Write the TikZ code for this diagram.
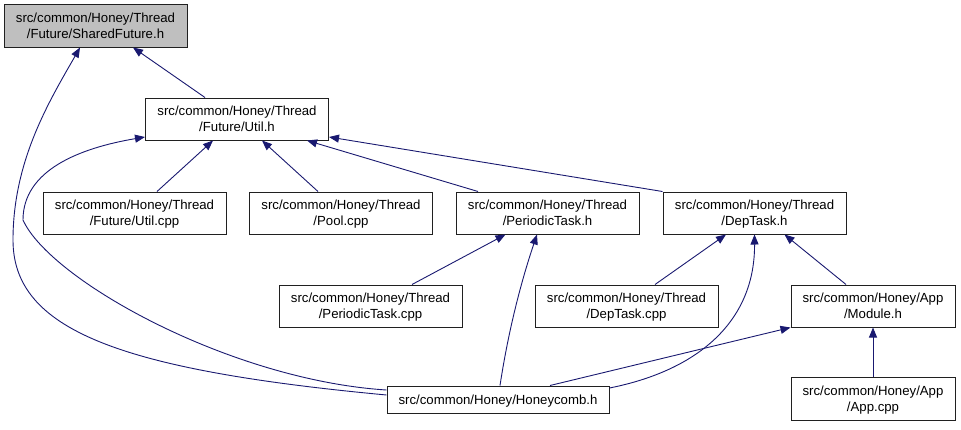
\documentclass[tikz,border=0pt]{standalone}
\usepackage{fontspec}
\setmainfont{Liberation Sans}
\usetikzlibrary{arrows.meta}
\definecolor{edgeblue}{HTML}{191970}
\definecolor{boxgray}{HTML}{BFBFBF}
\definecolor{boxline}{HTML}{202020}
\begin{document}
\begin{tikzpicture}[x=1pt,y=-1pt,
  file/.style={draw=boxline,line width=1pt,fill=white,inner sep=0pt,align=center,text depth=0pt,
    minimum width=183pt,minimum height=42pt,font=\fontsize{13.2}{15.8}\selectfont},
  dep/.style={draw=edgeblue,line width=0.9pt,{Triangle[length=10pt,width=8pt]}-},
]
\useasboundingbox (0,0) rectangle (961,429);
\node[file,fill=boxgray,minimum height=43pt] (sf) at (95.5,25.5) {src/common/Honey/Thread\\/Future/SharedFuture.h};
\node[file] (utilh) at (237,119) {src/common/Honey/Thread\\/Future/Util.h};
\node[file] (utilcpp) at (134.5,213) {src/common/Honey/Thread\\/Future/Util.cpp};
\node[file] (pool) at (341,213) {src/common/Honey/Thread\\/Pool.cpp};
\node[file] (pth) at (547.5,213) {src/common/Honey/Thread\\/PeriodicTask.h};
\node[file] (dth) at (754.5,213) {src/common/Honey/Thread\\/DepTask.h};
\node[file] (ptcpp) at (370.5,306) {src/common/Honey/Thread\\/PeriodicTask.cpp};
\node[file] (dtcpp) at (626.5,306) {src/common/Honey/Thread\\/DepTask.cpp};
\node[file,minimum width=164pt] (mod) at (873,306) {src/common/Honey/App\\/Module.h};
\node[file,minimum width=222pt,minimum height=27pt] (hc) at (498,399.5) {src/common/Honey/Honeycomb.h};
\node[file,minimum width=164pt,minimum height=43pt] (app) at (873,399) {src/common/Honey/App\\/App.cpp};

\draw[dep] ([xshift=37.5pt]sf.south) -- ([xshift=-32pt]utilh.north);
\draw[dep] ([xshift=-15.5pt]sf.south) .. controls (50,100) and (13,160) .. (13,240)
   .. controls (13,330) and (120,370) .. ([yshift=4.5pt]hc.west);
\draw[dep] ([xshift=-24pt]utilh.south) -- ([xshift=22.5pt]utilcpp.north);
\draw[dep] ([xshift=25pt]utilh.south) -- ([xshift=-23pt]pool.north);
\draw[dep] ([xshift=-22pt]utilh.south east) -- ([xshift=-69.5pt]pth.north);
\draw[dep] ([yshift=-18pt]utilh.east) -- (dth.north west);
\draw[dep] ([yshift=-18pt]utilh.west) .. controls (80,148) and (23,170) .. (23,220)
   .. controls (50,280) and (230,380) .. ([yshift=9.5pt]hc.west);
\draw[dep] ([xshift=-42pt]pth.south) -- ([xshift=41.5pt]ptcpp.north);
\draw[dep] ([xshift=-10.5pt]pth.south) .. controls (525,270) and (510,320) .. ([xshift=2pt]hc.north);
\draw[dep] ([xshift=-28.5pt]dth.south) -- ([xshift=28.5pt]dtcpp.north);
\draw[dep] (dth.south) .. controls (755,320) and (700,370) .. ([yshift=11.5pt]hc.east);
\draw[dep] ([xshift=30pt]dth.south) -- ([xshift=-27pt]mod.north);
\draw[dep] (mod.south west) -- ([xshift=52pt]hc.north);
\draw[dep] (mod.south) -- (app.north);
\end{tikzpicture}
\end{document}
